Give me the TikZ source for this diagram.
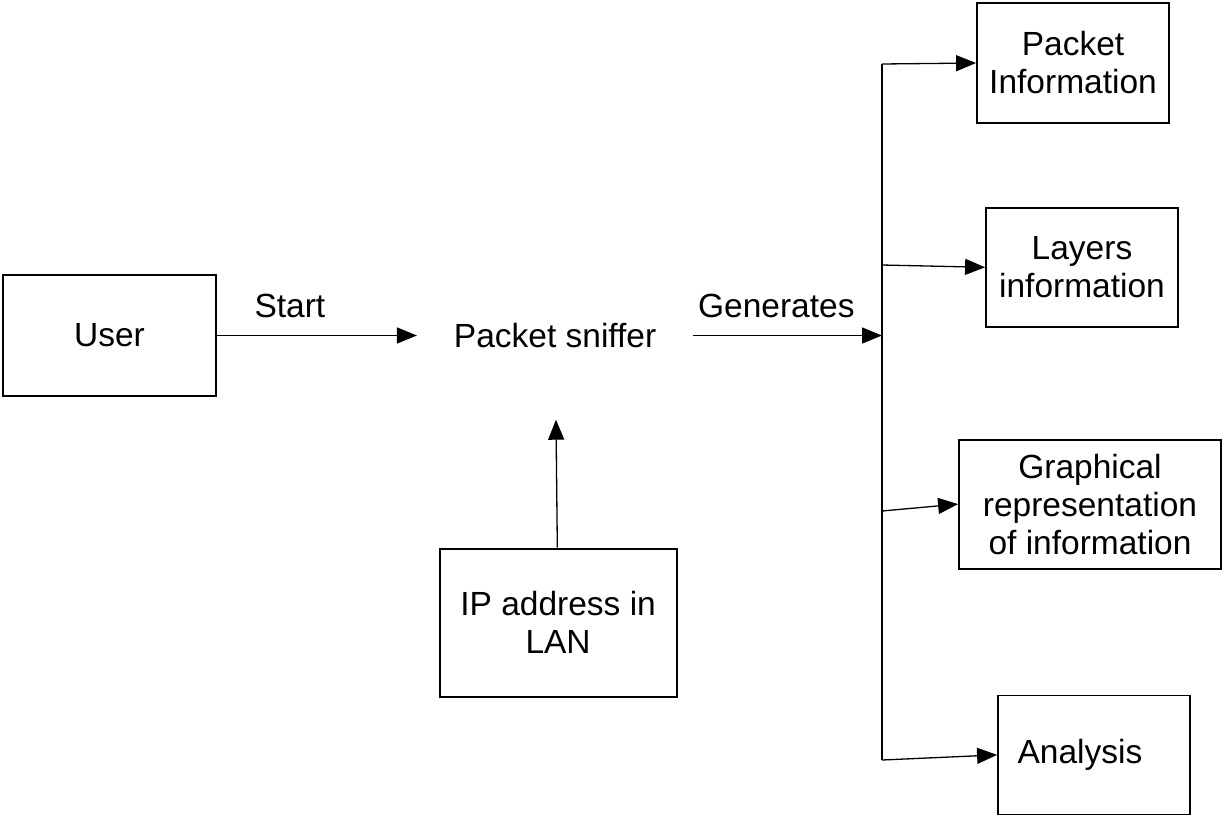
\documentclass[tikz,border=0pt]{standalone}
\usepackage{fontspec}
\setmainfont{Liberation Sans}
\usepackage{tikz}
\usetikzlibrary{arrows.meta,positioning}

\begin{document}
\begin{tikzpicture}[x=1pt, y=-1pt, font=\fontsize{33.5}{38}\selectfont]
        \tikzstyle{block} = [rectangle, draw, line width=1.8pt, align=center, inner sep=0pt]
        \tikzstyle{line} = [draw, line width=1.3pt, -{Triangle[length=20pt,width=16pt]}]
        \tikzstyle{lbl} = [above=14pt, inner sep=3pt]
        \useasboundingbox (0,0) rectangle (1223,817);

        \node [block, minimum width=213pt, minimum height=121pt] (user) at (109.5,335.5) {User};
        \node [minimum width=276pt, minimum height=168pt, inner sep=0pt, right=200pt of user] (sniffer) {Packet sniffer};
        \node [block, minimum width=237pt, minimum height=148pt, below=128pt of sniffer, xshift=3pt] (ip) {IP address in\\LAN};

        \node [block, minimum width=192pt, minimum height=120pt] (pinfo) at (1073,63) {Packet\\Information};
        \node [block, minimum width=192pt, minimum height=119pt, below=83pt of pinfo, xshift=9pt] (layers) {Layers\\information};
        \node [block, minimum width=262pt, minimum height=129pt, below=111pt of layers, xshift=8pt] (graph) {Graphical\\representation\\of information};
        \node [block, minimum width=192pt, minimum height=119pt, below=125pt of graph, xshift=4pt] (analysis) {Analysis\hspace*{28pt}};

        % trunk points
        \coordinate (t1) at (882,64);
        \coordinate (t2) at (882,265);
        \coordinate (t3) at (882,511);
        \coordinate (t4) at (882,760);
        \coordinate (gen) at (sniffer.east -| t1);

        \path [line] (user) -- node [lbl, pos=.365] {Start} (sniffer);
        \path [line] (ip) -- (sniffer);
        \path [line] (sniffer) -- node [lbl, pos=.44] {Generates} (gen);
        \draw [line width=1.3pt] (t1) -- (t4);
        \path [line] (t1) -- (pinfo.west);
        \path [line] (t2) -- (layers.west);
        \path [line] (t3) -- (graph.west);
        \path [line] (t4) -- (analysis.west);
    \end{tikzpicture}
\end{document}
